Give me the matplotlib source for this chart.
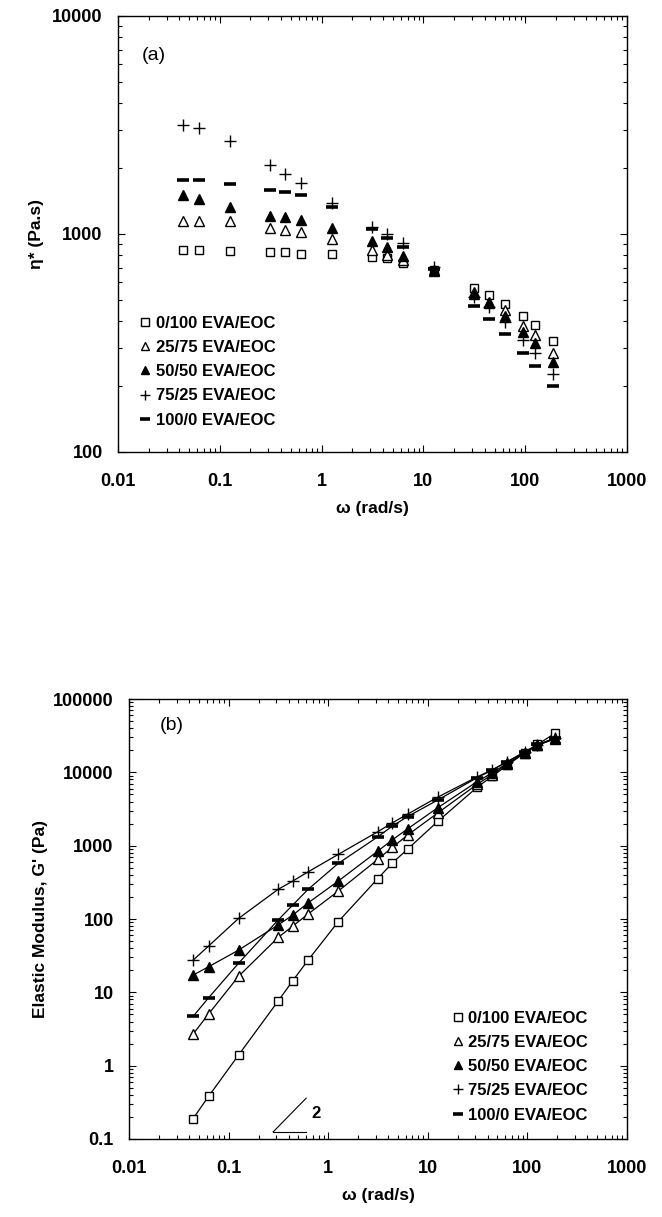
import numpy as np
import matplotlib
matplotlib.use("Agg")
import matplotlib.pyplot as plt
from matplotlib.lines import Line2D
from matplotlib.ticker import LogLocator, NullFormatter, FixedLocator, FixedFormatter

plt.rcParams['font.family'] = ['Liberation Sans', 'DejaVu Sans']

# Angular frequency (rad/s)
omega = [0.044, 0.0628, 0.126, 0.314, 0.44, 0.628, 1.26, 3.14, 4.4, 6.28,
         12.6, 31.4, 44.0, 62.8, 94.2, 126.0, 188.5]

labels = ["0/100 EVA/EOC", "25/75 EVA/EOC", "50/50 EVA/EOC",
          "75/25 EVA/EOC", "100/0 EVA/EOC"]

# Complex viscosity eta* (Pa.s)
eta_0_100 = [845, 845, 838, 830, 825, 809, 807, 787, 775, 734,
             680, 568, 525, 478, 422, 383, 323]
eta_25_75 = [1150, 1150, 1150, 1070, 1042, 1018, 946, 845, 801, 760,
             675, 543, 489, 448, 378, 345, 285]
eta_50_50 = [1510, 1450, 1330, 1210, 1195, 1160, 1070, 929, 869, 793,
             680, 531, 481, 421, 356, 317, 260]
eta_75_25 = [3150, 3050, 2680, 2075, 1885, 1715, 1387, 1080, 1000, 912,
             705, 513, 461, 396, 327, 283, 228]
eta_100_0 = [1770, 1770, 1695, 1590, 1553, 1510, 1334, 1052, 962, 869,
             690, 469, 408, 347, 285, 248, 201]

# Elastic modulus G' (Pa)
g_0_100 = [0.19, 0.38, 1.4, 7.6, 14.4, 27.5, 92, 355, 580, 900,
           2150, 6300, 8800, 12500, 18500, 24000, 34000]
g_25_75 = [2.7, 5.05, 16.6, 56, 80, 117, 240, 650, 950, 1400,
           2800, 6900, 9300, 13000, 18500, 23500, 29500]
g_50_50 = [17.2, 22.3, 37.7, 83, 113, 166, 329, 843, 1200, 1700,
           3300, 7500, 9800, 13300, 18500, 23500, 28500]
g_75_25 = [27.5, 42.7, 102, 254, 329, 440, 760, 1550, 2050, 2700,
           4600, 8700, 10800, 14000, 19000, 23500, 29000]
g_100_0 = [4.7, 8.4, 25, 97, 155, 254, 573, 1320, 1850, 2500,
           4200, 8500, 10700, 14000, 19000, 24000, 29000]

eta_series = [eta_0_100, eta_25_75, eta_50_50, eta_75_25, eta_100_0]
g_series = [g_0_100, g_25_75, g_50_50, g_75_25, g_100_0]

# marker, face colour, size, edge width
styles = [
    dict(marker='s', mfc='white', ms=6.0, mew=1.0),
    dict(marker='^', mfc='white', ms=6.5, mew=1.0),
    dict(marker='^', mfc='black', ms=6.5, mew=1.0),
    dict(marker='+', mfc='black', ms=8.5, mew=1.0),
    dict(marker='_', mfc='black', ms=8.0, mew=2.6),
]

TICK_FS = 13
BOLD = dict(fontweight='bold', fontsize=12.5)
LEG_PROP = dict(weight='bold', size=12)

fig = plt.figure(figsize=(6.62, 12.17), dpi=100)
fig.patch.set_facecolor('white')


def style_axes(ax, xlim, ylim, yticks, ylabels):
    ax.set_xscale('log')
    ax.set_yscale('log')
    ax.set_xlim(*xlim)
    ax.set_ylim(*ylim)
    xt = [0.01, 0.1, 1, 10, 100, 1000]
    ax.xaxis.set_major_locator(FixedLocator(xt))
    ax.xaxis.set_major_formatter(FixedFormatter(["0.01", "0.1", "1", "10", "100", "1000"]))
    ax.yaxis.set_major_locator(FixedLocator(yticks))
    ax.yaxis.set_major_formatter(FixedFormatter(ylabels))
    for axis in (ax.xaxis, ax.yaxis):
        axis.set_minor_locator(LogLocator(base=10, subs=np.arange(2, 10), numticks=20))
        axis.set_minor_formatter(NullFormatter())
    ax.tick_params(which='both', direction='in', top=True, right=True,
                   color='black', width=0.8)
    ax.tick_params(which='major', length=5)
    ax.tick_params(which='minor', length=3)
    ax.tick_params(axis='x', which='major', pad=15)
    ax.tick_params(axis='y', which='major', pad=11)
    for lbl in ax.get_xticklabels() + ax.get_yticklabels():
        lbl.set_fontweight('bold')
        lbl.set_fontsize(TICK_FS)
    for sp in ax.spines.values():
        sp.set_linewidth(1.0)
        sp.set_color('black')


def legend_handles():
    return [Line2D([], [], linestyle='none', color='black', mec='black', **st)
            for st in styles]


# ---------------- (a) complex viscosity ----------------
ax1 = fig.add_axes([0.1782, 0.6286, 0.7689, 0.3583])
for y, lab, st in zip(eta_series, labels, styles):
    ax1.plot(omega, y, linestyle='none', color='black', mec='black',
             label=lab, zorder=3, **st)
style_axes(ax1, (0.01, 1000), (100, 10000), [100, 1000, 10000],
           ["100", "1000", "10000"])
ax1.set_xlabel("ω (rad/s)", labelpad=8, **BOLD)
ax1.set_ylabel("η* (Pa.s)", labelpad=6, **BOLD)
ax1.text(0.047, 0.91, "(a)", transform=ax1.transAxes, fontsize=14,
         ha='left', va='center')
ax1.legend(legend_handles(), labels, loc='upper left',
           bbox_to_anchor=(0.042, 0.3126), frameon=False, prop=LEG_PROP,
           handlelength=0.7, handletextpad=0.3, labelspacing=0.555,
           borderpad=0, borderaxespad=0, markerscale=0.85)

# ---------------- (b) elastic modulus ----------------
ax2 = fig.add_axes([0.1949, 0.0641, 0.7523, 0.3615])
for y, lab, st in zip(g_series, labels, styles):
    ax2.plot(omega, y, linestyle='-', color='black', lw=0.9, mec='black',
             label=lab, zorder=3, **st)
style_axes(ax2, (0.01, 1000), (0.1, 100000),
           [0.1, 1, 10, 100, 1000, 10000, 100000],
           ["0.1", "1", "10", "100", "1000", "10000", "100000"])
ax2.set_xlabel("ω (rad/s)", labelpad=8, **BOLD)
ax2.set_ylabel("Elastic Modulus, G' (Pa)", labelpad=4, **BOLD)
ax2.text(0.062, 0.941, "(b)", transform=ax2.transAxes, fontsize=14,
         ha='left', va='center')

# slope-2 guide
ax2.plot([0.28, 0.6], [0.125, 0.36], color='black', lw=0.8)
ax2.plot([0.28, 0.6], [0.125, 0.125], color='black', lw=0.8)
ax2.text(0.68, 0.22, "2", fontsize=12, fontweight='bold', ha='left', va='center')

ax2.legend(legend_handles(), labels, loc='upper left',
           bbox_to_anchor=(0.648, 0.292), frameon=False, prop=LEG_PROP,
           handlelength=0.7, handletextpad=0.3, labelspacing=0.555,
           borderpad=0, borderaxespad=0, markerscale=0.85)

fig.savefig("out.png", dpi=100, facecolor='white')
